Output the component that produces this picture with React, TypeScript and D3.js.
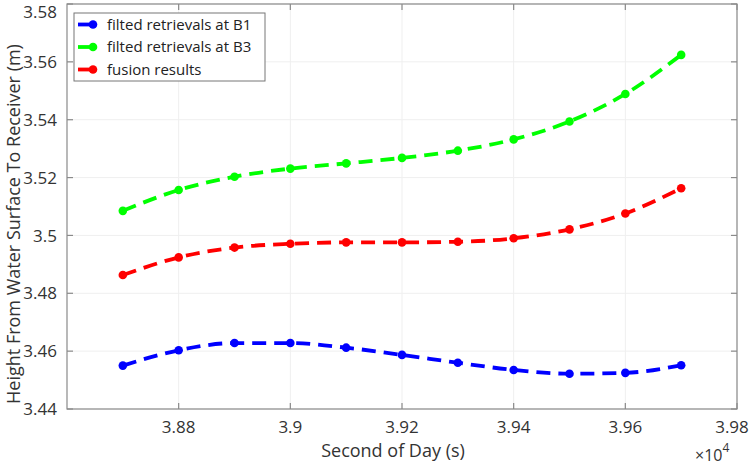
import React from 'react';
import * as d3 from 'd3';

// seconds of day, in units of 1e4
const seconds = [3.87, 3.88, 3.89, 3.9, 3.91, 3.92, 3.93, 3.94, 3.95, 3.96, 3.97];

const heightB1 = [3.4550, 3.4603, 3.4628, 3.4628, 3.4612, 3.4587, 3.4560, 3.4535, 3.4522, 3.4525, 3.4551];
const heightB3 = [3.5085, 3.5157, 3.5203, 3.5231, 3.5249, 3.5268, 3.5293, 3.5332, 3.5394, 3.5489, 3.5624];
const heightFusion = [3.4863, 3.4924, 3.4958, 3.4971, 3.4976, 3.4976, 3.4978, 3.4990, 3.5021, 3.5076, 3.5163];

const xTicks = [3.88, 3.9, 3.92, 3.94, 3.96, 3.98];
const yTicks = [3.44, 3.46, 3.48, 3.5, 3.52, 3.54, 3.56, 3.58];

const seriesNames = ['filted retrievals at B1', 'filted retrievals at B3', 'fusion results'];
const seriesColors = ['#0000ff', '#00ff00', '#ff0000'];

const W = 750;
const H = 465;
const margin = { top: 4, right: 13, bottom: 56, left: 67 };
const FONT = '"Open Sans", "Noto Sans", sans-serif';

export default function App() {
  const innerW = W - margin.left - margin.right;
  const innerH = H - margin.top - margin.bottom;

  const x = d3.scaleLinear().domain([3.86, 3.98]).range([0, innerW]);
  const y = d3.scaleLinear().domain([3.44, 3.58]).range([innerH, 0]);

  const fmt = (v: number) => String(Number(v.toFixed(2)));

  const line = d3.line<number>()
    .x((_, i) => x(seconds[i]))
    .y(d => y(d))
    .curve(d3.curveMonotoneX);

  const allSeries = [heightB1, heightB3, heightFusion];
  const axisColor = '#8a8a8a';
  const tickLen = 6;

  return (
    <svg width={W} height={H} style={{ position: 'absolute', left: 0, top: 0, background: '#fff' }}>
      <g transform={`translate(${margin.left},${margin.top})`}>
        {/* grid */}
        {xTicks.map(t => (
          <line key={'gx' + t} x1={x(t)} x2={x(t)} y1={0} y2={innerH} stroke="#efefef" strokeWidth={1} />
        ))}
        {yTicks.map(t => (
          <line key={'gy' + t} x1={0} x2={innerW} y1={y(t)} y2={y(t)} stroke="#efefef" strokeWidth={1} />
        ))}

        {/* series */}
        {allSeries.map((s, k) => (
          <g key={'s' + k}>
            <path d={line(s) || ''} fill="none" stroke={seriesColors[k]} strokeWidth={3.8}
              strokeDasharray="14,8" />
            {s.map((v, i) => (
              <circle key={i} cx={x(seconds[i])} cy={y(v)} r={4.3} fill={seriesColors[k]} />
            ))}
          </g>
        ))}

        {/* axes box */}
        <rect x={0} y={0} width={innerW} height={innerH} fill="none" stroke={axisColor} strokeWidth={1.2} />
        {xTicks.map(t => (
          <g key={'tx' + t}>
            <line x1={x(t)} x2={x(t)} y1={innerH} y2={innerH - tickLen} stroke={axisColor} strokeWidth={1.2} />
            <line x1={x(t)} x2={x(t)} y1={0} y2={tickLen} stroke={axisColor} strokeWidth={1.2} />
            <text x={Math.min(x(t), innerW - 5)} y={innerH + 24} textAnchor="middle" fontFamily={FONT}
              fontSize={17} fill="#333">
              {fmt(t)}
            </text>
          </g>
        ))}
        {yTicks.map(t => (
          <g key={'ty' + t}>
            <line x1={0} x2={tickLen} y1={y(t)} y2={y(t)} stroke={axisColor} strokeWidth={1.2} />
            <line x1={innerW} x2={innerW - tickLen} y1={y(t)} y2={y(t)} stroke={axisColor} strokeWidth={1.2} />
            <text x={-10} y={Math.max(y(t), 8)} dy="0.36em" textAnchor="end" fontFamily={FONT} fontSize={17} fill="#333">
              {fmt(t)}
            </text>
          </g>
        ))}

        {/* axis titles */}
        <text x={innerW / 2 - 9} y={innerH + 48} textAnchor="middle" fontFamily={FONT} fontSize={18} fill="#333">
          Second of Day (s)
        </text>
        <text transform={`translate(${-47},${220}) rotate(-90)`} textAnchor="middle"
          fontFamily={FONT} fontSize={18} fill="#333">
          Height From Water Surface To Receiver (m)
        </text>
        <text x={innerW - 42} y={innerH + 52} fontFamily={FONT} fontSize={16} fill="#333">
          ×10<tspan dy={-9} fontSize={12}>4</tspan>
        </text>

        {/* legend */}
        <g transform="translate(7,9)">
          <rect x={0} y={0} width={191} height={68} fill="#fff" stroke="#777" strokeWidth={1} />
          {seriesNames.map((n, k) => (
            <g key={'l' + k} transform={`translate(0,${11.5 + k * 22.5})`}>
              <line x1={4} x2={20} y1={0} y2={0} stroke={seriesColors[k]} strokeWidth={3.8} />
              <circle cx={19} cy={0} r={4.3} fill={seriesColors[k]} />
              <text x={33} y={0} dy="0.35em" fontFamily={FONT} fontSize={15} fill="#222">{n}</text>
            </g>
          ))}
        </g>
      </g>
    </svg>
  );
}
